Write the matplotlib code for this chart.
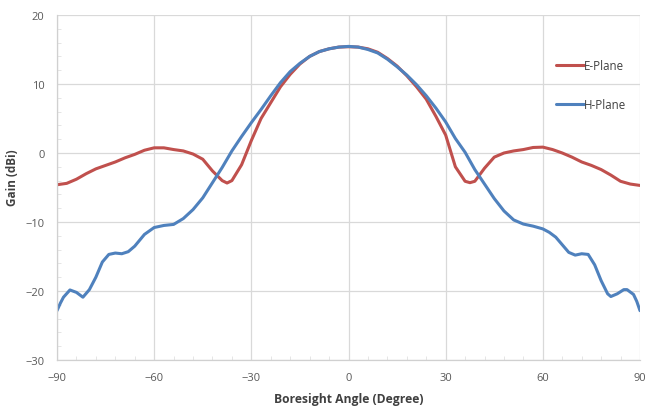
import matplotlib.pyplot as plt
from matplotlib.ticker import MultipleLocator

# E-plane (red)
e_angle = [-90, -87, -84, -81, -78, -75, -72, -69, -66, -63, -60, -57, -54, -51, -48,
           -45, -42, -39, -37.5, -36, -33, -30, -27, -24, -21, -18, -15, -12, -9, -6, -3,
           0, 3, 6, 9, 12, 15, 18, 21, 24, 27, 30, 33, 36, 37.5, 39, 42, 45, 48, 51, 54,
           57, 60, 63, 66, 69, 72, 75, 78, 81, 84, 87, 90]
e_gain = [-4.6, -4.4, -3.8, -3.0, -2.3, -1.8, -1.3, -0.7, -0.2, 0.4, 0.75, 0.75, 0.5, 0.3, -0.15,
          -0.9, -2.6, -4.0, -4.35, -4.0, -1.7, 1.8, 5.0, 7.3, 9.6, 11.4, 12.9, 14.0, 14.7, 15.1, 15.35,
          15.4, 15.35, 15.1, 14.6, 13.7, 12.6, 11.2, 9.6, 7.8, 5.3, 2.6, -2.0, -4.1, -4.3, -4.1, -2.2,
          -0.6, 0.0, 0.3, 0.5, 0.8, 0.85, 0.5, 0.0, -0.6, -1.3, -1.8, -2.4, -3.2, -4.1, -4.5, -4.7]

# H-plane (blue)
h_angle = [-90, -89, -88, -86, -84, -82, -80, -78, -76, -74, -72, -70, -68, -66, -63,
           -60, -57, -54, -51, -48, -45, -42, -39, -36, -33, -30, -27, -24, -21, -18,
           -15, -12, -9, -6, -3, 0, 3, 6, 9, 12, 15, 18, 21, 24, 27, 30, 33, 36, 39,
           42, 45, 48, 51, 54, 57, 60, 62, 64, 66, 68, 70, 72, 74, 76, 78, 80, 81, 83,
           85, 86, 88, 89, 90]
h_gain = [-22.85, -21.8, -20.9, -19.85, -20.2, -20.9, -19.8, -18.0, -15.8, -14.7, -14.5, -14.6, -14.3, -13.5, -11.8,
          -10.8, -10.5, -10.35, -9.5, -8.2, -6.5, -4.3, -2.1, 0.3, 2.4, 4.4, 6.3, 8.3, 10.2, 11.8,
          13.0, 14.0, 14.7, 15.1, 15.35, 15.45, 15.35, 15.0, 14.5, 13.6, 12.5, 11.3, 9.9, 8.3, 6.5, 4.5, 2.1, 0.1, -2.4,
          -4.5, -6.6, -8.4, -9.7, -10.3, -10.6, -11.0, -11.5, -12.2, -13.3, -14.4, -14.8, -14.6, -14.7, -16.2, -18.5, -20.4, -20.8, -20.4,
          -19.8, -19.8, -20.5, -21.5, -22.85]

plt.rcParams['font.family'] = ['Open Sans', 'DejaVu Sans']

fig = plt.figure(figsize=(6.46, 4.10), dpi=100)
ax = fig.add_axes([57 / 646, 1 - 361 / 410, 583 / 646, 345 / 410])

ax.plot(e_angle, e_gain, color='#C0504D', lw=2.2, label='E-Plane', solid_capstyle='round', solid_joinstyle='round')
ax.plot(h_angle, h_gain, color='#4F81BD', lw=2.2, label='H-Plane', solid_capstyle='round', solid_joinstyle='round')

ax.set_xlim(-90, 90)
ax.set_ylim(-30, 20)
ax.xaxis.set_major_locator(MultipleLocator(30))
ax.xaxis.set_minor_locator(MultipleLocator(6))
ax.yaxis.set_major_locator(MultipleLocator(10))
ax.yaxis.set_minor_locator(MultipleLocator(2))

ax.grid(which='major', color='#d9d9d9', lw=0.9)
ax.set_axisbelow(True)
for s in ['top', 'right']:
    ax.spines[s].set_visible(False)
for s in ['left', 'bottom']:
    ax.spines[s].set_color('#d0d0d0')
    ax.spines[s].set_linewidth(0.9)

ax.tick_params(which='major', length=0, pad=9, labelsize=8, labelcolor='#595959')
ax.tick_params(which='minor', length=3, direction='in', color='#e0e0e0')

ax.set_xlabel('Boresight Angle (Degree)', fontsize=8.7, fontweight='bold', color='#404040', labelpad=6)
ax.set_ylabel('Gain (dBi)', fontsize=8.5, fontweight='bold', color='#404040')
ax.yaxis.set_label_coords(-0.066, 0.53)

ax.legend(loc='upper left', bbox_to_anchor=(0.848, 0.885), frameon=False, fontsize=8.3,
          handlelength=2.4, handletextpad=0.05, labelspacing=2.25, borderaxespad=0,
          labelcolor='#404040')

fig.savefig('out.png', dpi=100)
